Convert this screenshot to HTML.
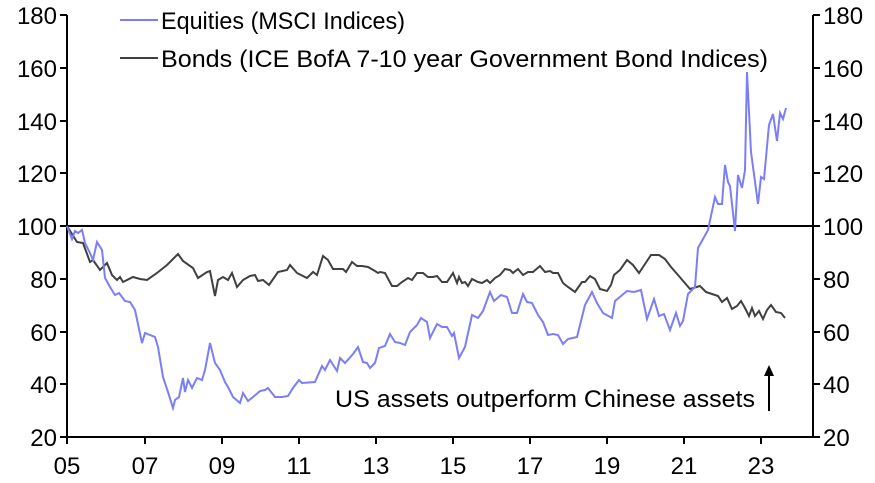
<!DOCTYPE html>
<html><head><meta charset="utf-8"><style>
html,body{margin:0;padding:0;background:#fff;}
svg{display:block;font-family:"Liberation Sans",sans-serif;}
</style></head><body>
<svg width="875" height="483" viewBox="0 0 875 483" xmlns="http://www.w3.org/2000/svg">
<g stroke="#000" stroke-width="2" fill="none">
<line x1="67" y1="15" x2="67" y2="438"/>
<line x1="813" y1="15" x2="813" y2="438"/>
<line x1="66" y1="437" x2="814" y2="437"/>
<line x1="67" y1="226" x2="813" y2="226"/>
<path d="M60 15H67M60 68H67M60 121H67M60 173H67M60 226H67M60 279H67M60 332H67M60 384H67M60 437H67"/>
<path d="M813 15H820M813 68H820M813 121H820M813 173H820M813 226H820M813 279H820M813 332H820M813 384H820M813 437H820"/>
<path d="M67 437V444M145 437V444M222 437V444M299 437V444M376 437V444M453 437V444M530 437V444M607 437V444M684 437V444M761 437V444"/>
</g>
<g font-size="24" fill="#000" text-anchor="end">
<text x="57" y="24">180</text><text x="57" y="77">160</text><text x="57" y="130">140</text><text x="57" y="182">120</text><text x="57" y="235">100</text><text x="57" y="288">80</text><text x="57" y="341">60</text><text x="57" y="393">40</text><text x="57" y="446">20</text>
</g>
<g font-size="24" fill="#000" text-anchor="start">
<text x="823" y="24">180</text><text x="823" y="77">160</text><text x="823" y="130">140</text><text x="823" y="182">120</text><text x="823" y="235">100</text><text x="823" y="288">80</text><text x="823" y="341">60</text><text x="823" y="393">40</text><text x="823" y="446">20</text>
</g>
<g font-size="24" fill="#000" text-anchor="middle">
<text x="67" y="474">05</text><text x="145" y="474">07</text><text x="222" y="474">09</text><text x="299" y="474">11</text><text x="376" y="474">13</text><text x="453" y="474">15</text><text x="530" y="474">17</text><text x="607" y="474">19</text><text x="684" y="474">21</text><text x="761" y="474">23</text>
</g>
<polyline fill="none" stroke="#404040" stroke-width="2" points="67,226 77,242 83,243 90,262 93,260 100,270 107,263 112,275 117,280 120,277 123,282 133,277 140,279 147,280 157,273 167,265 178,254 183,261 193,268 198,278 207,272 210,271 215,296 218,280 223,277 228,280 232,273 237,287 243,280 250,276 255,275 258,281 263,280 269,285 278,272 287,270 290,265 297,273 307,278 313,272 317,275 323,256 328,260 333,269 343,269 346,272 352,262 357,266 362,266 368,267 375,271 378,273 380,272 385,273 392,286 397,286 402,282 408,278 412,280 417,273 423,273 428,277 433,277 437,276 442,282 447,282 453,273 457,283 459,277 462,283 465,282 468,286 472,279 478,282 482,283 487,280 490,283 495,278 500,275 505,269 510,270 513,273 518,269 523,275 528,272 533,272 540,266 545,272 550,271 553,273 558,273 563,283 568,287 575,292 582,282 585,282 590,276 595,279 600,289 607,291 611,285 614,275 620,270 627,260 633,265 639,273 645,264 651,255 659,255 665,259 671,267 678,275 684,282 690,289 700,286 706,292 712,294 718,296 722,302 727,298 732,309 737,306 741,301 745,308 749,316 752,308 755,316 759,311 763,319 767,310 771,305 776,312 781,313 785,318"/>
<polyline fill="none" stroke="#7b7ef7" stroke-width="2" points="67,226 72,239 75,231 78,233 82,230 85,243 90,253 93,260 97,242 102,250 105,278 110,287 115,295 119,293 125,301 130,302 135,310 142,343 145,333 150,335 155,337 158,347 163,377 168,392 173,408 175,400 179,397 183,378 185,392 188,380 192,388 197,378 202,380 205,370 210,343 215,363 220,370 225,382 228,387 233,397 240,403 243,393 248,401 253,397 260,391 265,390 268,388 275,397 282,397 288,396 293,388 299,380 302,383 315,382 322,366 325,370 330,360 337,371 340,358 345,363 353,354 358,347 363,362 367,363 370,368 375,363 379,348 385,346 390,334 395,342 400,343 405,345 410,332 417,325 421,318 427,322 430,338 437,324 442,327 447,327 452,336 454,333 459,358 465,347 472,315 478,318 483,311 490,292 494,301 501,295 507,297 512,313 517,313 523,294 527,302 532,303 538,315 543,322 548,335 553,334 558,335 563,344 568,339 577,337 585,305 592,292 597,303 603,313 612,318 615,301 627,291 634,292 641,290 647,319 654,299 659,316 664,314 670,330 676,313 680,326 683,321 688,294 695,287 698,248 708,230 715,197 718,204 722,204 725,165 728,182 730,186 735,231 738,175 742,188 745,170 747,72 751,152 758,204 761,177 764,179 769,125 773,114 777,141 780,113 783,119 786,108"/>
<line x1="120" y1="20" x2="158" y2="20" stroke="#7b7ef7" stroke-width="2"/>
<line x1="120" y1="58" x2="158" y2="58" stroke="#404040" stroke-width="2"/>
<text x="161" y="29" font-size="24.5" textLength="244" lengthAdjust="spacingAndGlyphs">Equities (MSCI Indices)</text>
<text x="161" y="67" font-size="24.5" textLength="607" lengthAdjust="spacingAndGlyphs">Bonds (ICE BofA 7-10 year Government Bond Indices)</text>
<text x="335" y="407" font-size="24.5" textLength="420" lengthAdjust="spacingAndGlyphs">US assets outperform Chinese assets</text>
<line x1="769" y1="411" x2="769" y2="374" stroke="#000" stroke-width="2"/>
<polygon points="769,365 764,376 774,376" fill="#000"/>
</svg>
</body></html>
